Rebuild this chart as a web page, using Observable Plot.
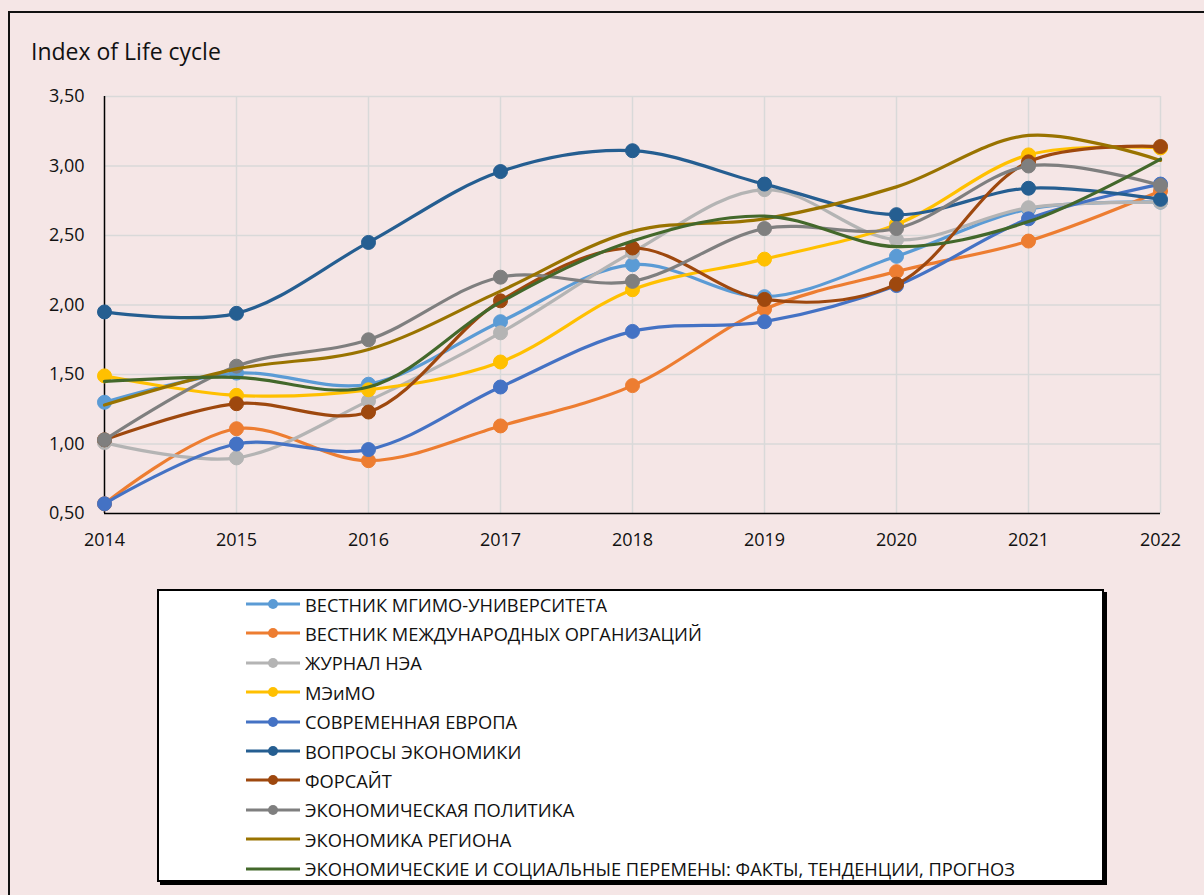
<!DOCTYPE html>
<html>
<head>
<meta charset="utf-8">
<script src="https://cdn.jsdelivr.net/npm/d3@7"></script>
<script src="https://cdn.jsdelivr.net/npm/@observablehq/plot@0.6"></script>
<style>
  html, body { margin: 0; padding: 0; }
  body { width: 1204px; height: 895px; background: #f5e6e6; position: relative; overflow: hidden; font-family: "Open Sans", "Noto Sans", sans-serif; }
  #frame { position: absolute; left: 8px; top: 11px; width: 1300px; height: 1000px; border-left: 2px solid #111; border-top: 2px solid #111; }
  #title { position: absolute; left: 31px; top: 40px; font-size: 23px; color: #111; line-height: 1; }
  #chart { position: absolute; left: 0; top: 0; }
  #legend { position: absolute; left: 157px; top: 589px; width: 947px; height: 293px; background: #fff; border: 2px solid #000; box-shadow: 3px 3px 0 #000; box-sizing: border-box; }
  .item { position: absolute; left: 85px; height: 24px; display: flex; align-items: center; font-size: 18.3px; color: #111; white-space: nowrap; }
  .item svg { margin-right: 3px; }
</style>
</head>
<body>
<div id="frame"></div>
<div id="chart"></div>
<div id="title">Index of Life cycle</div>
<div id="legend"></div>
<script>
const years = [2014, 2015, 2016, 2017, 2018, 2019, 2020, 2021, 2022];
const yTicks = [0.5, 1.0, 1.5, 2.0, 2.5, 3.0, 3.5];

const seriesNames = [
  "ВЕСТНИК МГИМО-УНИВЕРСИТЕТА",
  "ВЕСТНИК МЕЖДУНАРОДНЫХ ОРГАНИЗАЦИЙ",
  "ЖУРНАЛ НЭА",
  "МЭиМО",
  "СОВРЕМЕННАЯ ЕВРОПА",
  "ВОПРОСЫ ЭКОНОМИКИ",
  "ФОРСАЙТ",
  "ЭКОНОМИЧЕСКАЯ ПОЛИТИКА",
  "ЭКОНОМИКА РЕГИОНА",
  "ЭКОНОМИЧЕСКИЕ И СОЦИАЛЬНЫЕ ПЕРЕМЕНЫ: ФАКТЫ, ТЕНДЕНЦИИ, ПРОГНОЗ"
];

const vestnikMgimo     = [1.30, 1.51, 1.43, 1.88, 2.29, 2.06, 2.35, 2.69, 2.74];
const vestnikMezhdunar = [0.57, 1.11, 0.88, 1.13, 1.42, 1.97, 2.24, 2.46, 2.82];
const zhurnalNea       = [1.01, 0.90, 1.31, 1.80, 2.38, 2.83, 2.47, 2.70, 2.74];
const meimo            = [1.49, 1.35, 1.39, 1.59, 2.11, 2.33, 2.58, 3.08, 3.13];
const sovrEvropa       = [0.57, 1.00, 0.96, 1.41, 1.81, 1.88, 2.14, 2.62, 2.87];
const voprosyEkon      = [1.95, 1.94, 2.45, 2.96, 3.11, 2.87, 2.65, 2.84, 2.76];
const forsait          = [1.03, 1.29, 1.23, 2.03, 2.41, 2.04, 2.15, 3.03, 3.14];
const ekonPolitika     = [1.03, 1.56, 1.75, 2.20, 2.17, 2.55, 2.55, 3.00, 2.86];
const ekonRegiona      = [1.28, 1.54, 1.68, 2.10, 2.53, 2.62, 2.85, 3.22, 3.04];
const ekonSocPeremeny  = [1.45, 1.48, 1.41, 2.02, 2.46, 2.64, 2.42, 2.60, 3.05];

const seriesValues = [vestnikMgimo, vestnikMezhdunar, zhurnalNea, meimo, sovrEvropa,
  voprosyEkon, forsait, ekonPolitika, ekonRegiona, ekonSocPeremeny];
const seriesColors = ["#5b9bd5", "#ed7d31", "#b4b4b4", "#ffc000", "#4472c4",
  "#255e91", "#9e480e", "#7f7f7f", "#997300", "#43682b"];
const seriesMarkers = [true, true, true, true, true, true, true, true, false, false];

const fmt = d => d.toFixed(2).replace(".", ",");

const marks = [
  Plot.gridX(years.slice(1), {stroke: "#d9d9d9", strokeOpacity: 1, strokeWidth: 1.5}),
  Plot.gridY(yTicks.slice(1), {stroke: "#d9d9d9", strokeOpacity: 1, strokeWidth: 1.5}),
  Plot.ruleX([2014], {stroke: "#000", strokeWidth: 1.5}),
  Plot.ruleY([0.5], {stroke: "#000", strokeWidth: 1.5}),
  Plot.axisX(years, {tickFormat: d => String(d), tickSize: 0, tickPadding: 20, fontSize: 18, fill: "#111", label: null}),
  Plot.axisY(yTicks, {tickFormat: fmt, tickSize: 0, tickPadding: 20, fontSize: 18, fill: "#111", label: null})
];

seriesNames.forEach((name, i) => {
  const rows = years.map((y, j) => ({year: y, value: seriesValues[i][j]}));
  marks.push(Plot.line(rows, {x: "year", y: "value", curve: "catmull-rom", stroke: seriesColors[i], strokeWidth: 3.2}));
  if (seriesMarkers[i]) {
    marks.push(Plot.dot(rows, {x: "year", y: "value", r: 7, fill: seriesColors[i], stroke: seriesColors[i], strokeWidth: 1}));
  }
});

const chart = Plot.plot({
  width: 1204,
  height: 575,
  marginLeft: 104,
  marginRight: 44,
  marginTop: 96,
  marginBottom: 62,
  x: {type: "linear", domain: [2014, 2022], label: null},
  y: {domain: [0.5, 3.5], label: null},
  style: {background: "transparent", fontFamily: "'Open Sans', 'Noto Sans', sans-serif", fontSize: "18px", color: "#111"},
  marks
});
document.getElementById("chart").appendChild(chart);

const legend = document.getElementById("legend");
seriesNames.forEach((name, i) => {
  const item = document.createElement("div");
  item.className = "item";
  item.style.top = (1 + i * 29.4) + "px";
  const sw = `<svg width="58" height="14"><line x1="2" y1="7" x2="56" y2="7" stroke="${seriesColors[i]}" stroke-width="3.2"/>` +
    (seriesMarkers[i] ? `<circle cx="29" cy="7" r="5" fill="${seriesColors[i]}"/>` : "") + `</svg>`;
  item.innerHTML = sw + `<span>${name}</span>`;
  legend.appendChild(item);
});
</script>
</body>
</html>
